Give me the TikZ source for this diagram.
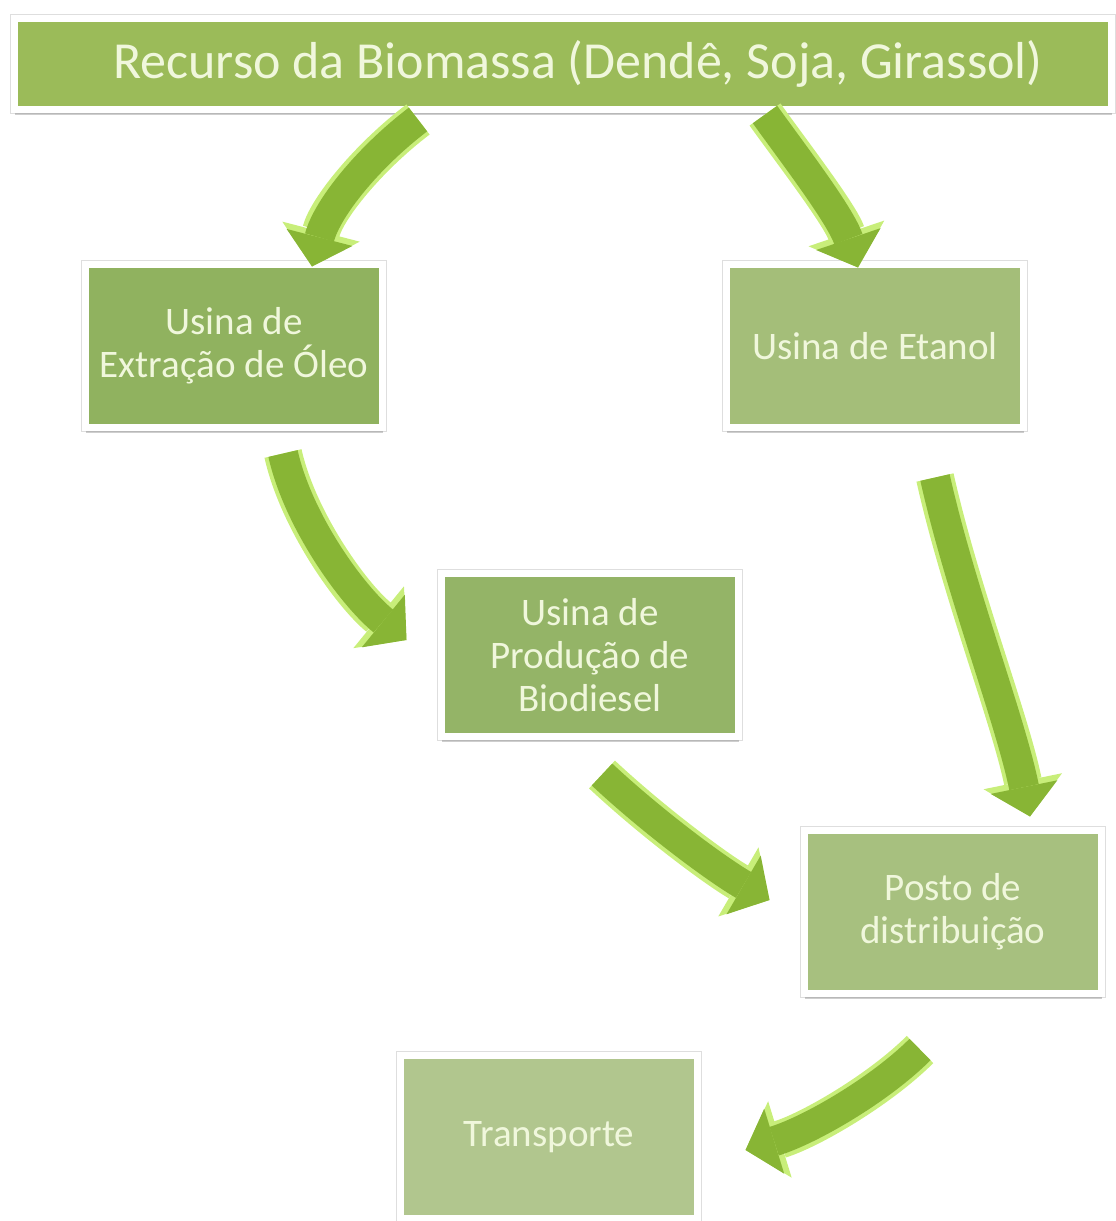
\documentclass[tikz,border=0pt]{standalone}
\usepackage{fontspec}
\setmainfont{Carlito}
\usepackage{xcolor}
\usepackage{tikz}
\usetikzlibrary{arrows.meta,shadows}
\definecolor{bargreen}{HTML}{9BBB59}
\definecolor{oilgreen}{HTML}{90B25F}
\definecolor{biogreen}{HTML}{94B467}
\definecolor{ethgreen}{HTML}{A4BE79}
\definecolor{postgreen}{HTML}{A7C07F}
\definecolor{trangreen}{HTML}{B1C68E}
\definecolor{txtcream}{HTML}{F0F7DC}
\definecolor{arrbody}{HTML}{88B535}
\definecolor{arrglow}{HTML}{C8EE7A}
\newcommand{\flow}[4]{%
  \draw[flowglow] #1 .. controls #2 and #3 .. #4;
  \draw[flowbody] #1 .. controls #2 and #3 .. #4;}

\begin{document}
\begin{tikzpicture}[x=0.5pt, y=0.5pt,
  stage/.style={draw=white, line width=3.5pt, outer sep=0pt,
    minimum width=148.5pt, minimum height=81.5pt, align=center,
    text=txtcream, font=\fontsize{19.5}{21.5}\selectfont,
    preaction={draw=black!13, line width=4.6pt},
    drop shadow={shadow xshift=0pt, shadow yshift=-2.5pt, opacity=0.35, fill=black!55}},
  headbar/.style={stage, fill=bargreen, minimum width=548.5pt, minimum height=45.5pt,
    font=\fontsize{26}{30}\selectfont},
  flowglow/.style={line width=19pt, arrglow, -{Triangle[length=18pt, width=40pt, line width=0pt]}},
  flowbody/.style={line width=15pt, arrbody, -{Triangle[length=15pt, width=34pt, line width=0pt]}},
]
\useasboundingbox (0,0) rectangle (1115,-1221);
\node[headbar] (top) at (563,-64) {\hspace*{15pt}Recurso da Biomassa (Dendê, Soja, Girassol)};
\node[stage, fill=oilgreen] (oleo) at (234,-346) {Usina de\\Extração de Óleo};
\node[stage, fill=ethgreen] (etanol) at (875,-346) {Usina de Etanol};
\node[stage, fill=biogreen] (biod) at (590,-655) {Usina de\\Produção de\\Biodiesel};
\node[stage, fill=postgreen] (posto) at (953,-912) {Posto de\\distribuição};
\node[stage, fill=trangreen] (transp) at (549,-1137) {Transporte};
% curved block arrows
\flow{([shift={(-145,-10)}]top.south)}{+(-50,-38)}{+(15,58)}{([shift={(78,-2)}]oleo.north)}
\flow{([shift={(202,-5)}]top.south)}{+(25,-35)}{+(-18,53)}{([shift={(-17,-3)}]etanol.north)}
\flow{([shift={(49,-26)}]oleo.south)}{+(15,-67)}{+(-55,45)}{([shift={(-35,15)}]biod.west)}
\flow{([shift={(60,-50)}]etanol.south)}{+(25,-112)}{+(-20,98)}{([shift={(77,14)}]posto.north)}
\flow{([shift={(12,-38)}]biod.south)}{+(48,-45)}{+(-55,32)}{([shift={(-35,12)}]posto.west)}
\flow{([shift={(-33,-56)}]posto.south)}{+(-40,-40)}{+(65,20)}{([shift={(48,-13)}]transp.east)}
\end{tikzpicture}
\end{document}
